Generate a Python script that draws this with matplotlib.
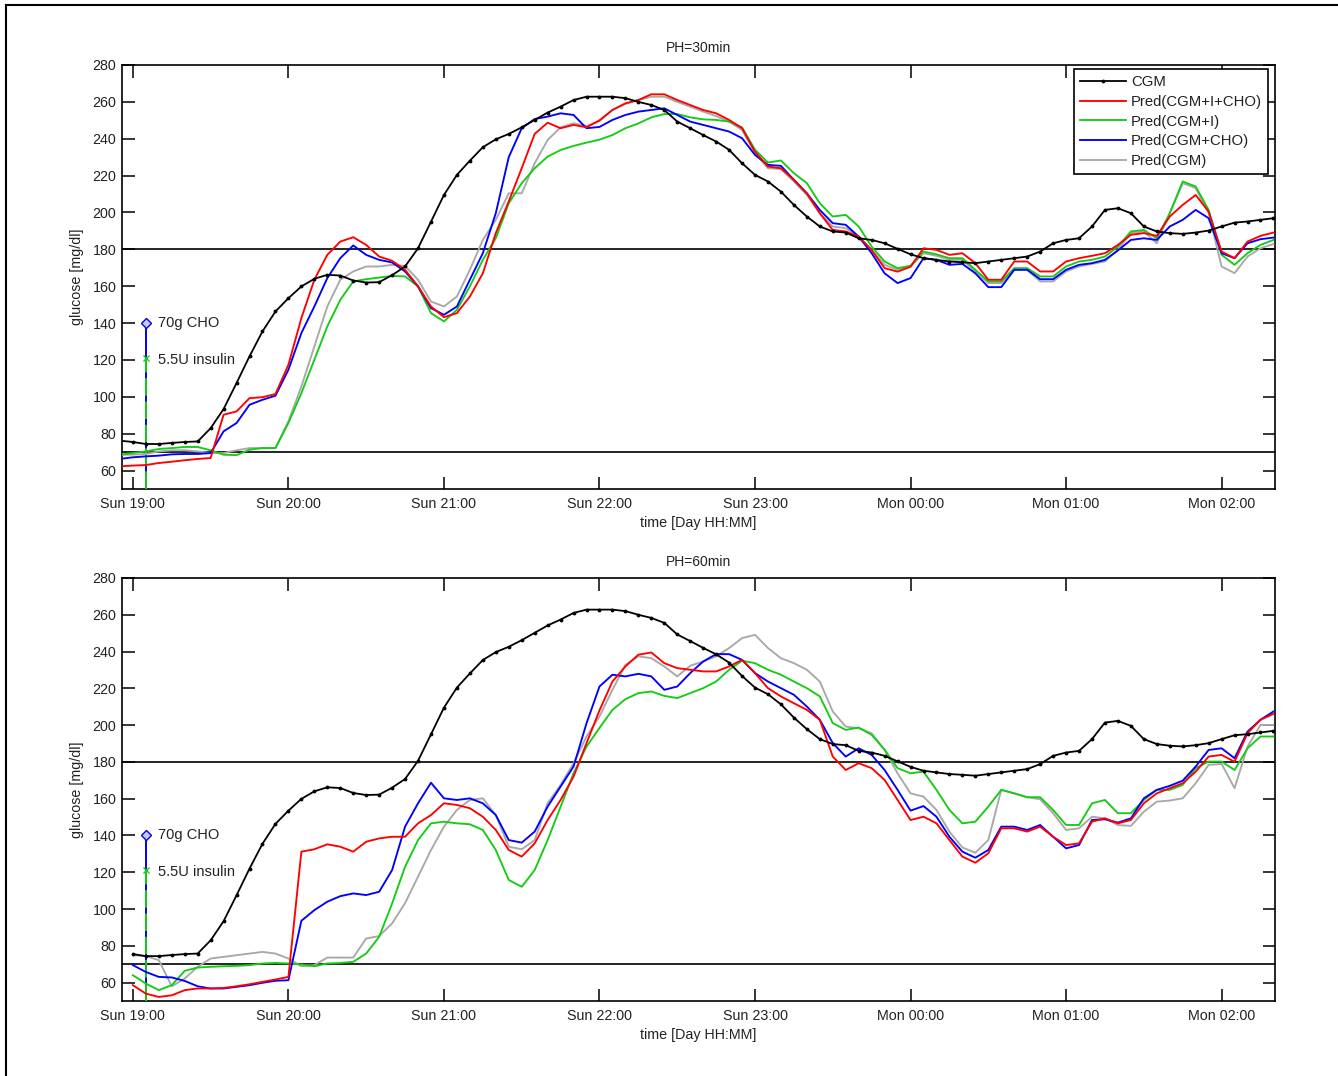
import numpy as np
import matplotlib
matplotlib.use("Agg")
import matplotlib.pyplot as plt
from matplotlib.lines import Line2D

plt.rcParams['font.family'] = ['Liberation Sans', 'DejaVu Sans']

# ---------------- data (minutes after Sun 19:00, 5-min CGM sampling) ----------------
t_top = np.arange(-5, 441, 5)      # top panel series start at left edge
t_bot = np.arange(0, 441, 5)       # bottom panel predictions start at 19:00

cgm = [76.2, 75.5, 74.4, 74.4, 75.0, 75.5, 75.8, 83, 93.4, 107.5, 122, 135.5, 146.3, 153.5,
       159.9, 164, 166.2, 165.8, 163.1, 162, 162.2, 166, 170.7, 180.6, 195, 209.5, 220.4,
       228.1, 235.4, 239.7, 242.6, 246.2, 250.2, 254.2, 257.4, 261, 262.8, 262.8, 262.8, 262,
       260, 258.3, 255.6, 249.3, 245.7, 242, 238.5, 234, 226.7, 220.4, 216.8, 211.3, 204.1,
       197.8, 192.4, 189.7, 189.1, 186, 185.1, 183.3, 180.3, 177.3, 175.2, 174.3, 173.4, 173,
       172.5, 173.4, 174.3, 175.2, 176.1, 178.8, 183.3, 185.1, 186, 192.4, 201.4, 202.3, 199.6,
       192.4, 189.7, 188.8, 188.4, 189.1, 190.2, 192.4, 194.5, 195.1, 196, 196.9]

# PH = 30 min
p30_i_cho = [62.3, 62.7, 63, 64.1, 64.8, 65.6, 66.3, 66.8, 90.3, 92.1, 99.3, 99.8, 101.5, 117.4,
             142.7, 163.5, 177, 184.2, 186.6, 182.4, 176.1, 173.8, 168.9, 159.9, 149, 143.2, 145.4,
             154.4, 167, 188.8, 206, 224, 242.6, 248.7, 245.7, 247.5, 246.2, 250, 255.6, 259.2,
             261, 264.1, 264.1, 261, 258.3, 255.6, 253.8, 250.2, 245.7, 233, 224.9, 224, 217.7,
             210.4, 199.6, 190.5, 189.7, 186.9, 179.6, 169.8, 167.9, 170.6, 180.6, 179.7, 177,
             177.9, 172.5, 163.5, 163.5, 173.4, 173.4, 168, 168, 173.4, 175.2, 176.5, 177.9, 182.4,
             187.9, 188.8, 187.3, 197.8, 204.1, 209.5, 200.5, 178.8, 175.2, 184.2, 187.3, 189.1]
p30_i = [68.6, 69.5, 70.4, 71.7, 72.2, 72.8, 72.8, 71, 68.6, 68.4, 71.3, 72.2, 72.2, 85.8, 102,
         120.1, 138.2, 152.6, 162.6, 163.8, 164.7, 165.6, 165.3, 159.9, 145.4, 140.9, 147.2, 159.9,
         174.3, 186, 205, 215.9, 224, 230.3, 233.9, 236.1, 237.9, 239.5, 242, 245.7, 248.3, 251.6,
         253.4, 253.4, 251.6, 250.5, 250.2, 249.3, 246.2, 234, 227.1, 228.2, 221.3, 215.9, 205,
         197.8, 198.7, 192.4, 181.5, 173.4, 169.8, 171.1, 178.8, 177.3, 175.2, 175.2, 168.9, 162.6,
         162.6, 169.8, 169.8, 165.3, 165.3, 170.7, 173.4, 174.3, 176.1, 181.5, 189.7, 190.5, 186,
         199.6, 216.8, 214.1, 201.4, 177, 171.6, 177.9, 182.4, 185.1]
p30_cho = [66.3, 67.2, 67.7, 68.1, 68.8, 69, 69, 69.5, 81.3, 85.8, 95.7, 98.4, 100.6, 114.7, 134.6,
           149, 164.4, 175.2, 182.1, 177, 174.3, 172.9, 168, 159.9, 148.1, 144.5, 149, 163.5, 177.9,
           199.6, 230, 245.7, 250.7, 252, 253.8, 252.9, 245.7, 246.4, 250.2, 252.9, 254.7, 255.6,
           256.5, 252.9, 249.3, 247.5, 245.7, 243.9, 240.3, 231.2, 225.8, 225.3, 217.7, 210.4,
           201.4, 194.2, 193.3, 186.9, 177.9, 167, 161.7, 164.4, 175.2, 174.3, 171.6, 172.1, 167,
           159.5, 159.5, 168.9, 168.9, 163.8, 163.8, 168.9, 171.6, 172.5, 174.3, 179.4, 185.1, 186,
           185.1, 192.4, 196, 201.4, 196.9, 177.9, 175.2, 183.3, 185.5, 186.4]
p30_cgm = [68.6, 68.6, 69, 70.4, 71, 71, 70.4, 69.5, 69.5, 71, 72.2, 72.2, 72.2, 86.8, 105.6, 127.3,
           149, 163.5, 168, 170.7, 170.7, 171.6, 171, 163.5, 151.7, 149, 154.4, 168.9, 185.1, 196,
           210.4, 210.4, 226.7, 239.3, 246.2, 248.4, 246.9, 249.5, 255.6, 258.9, 261, 262.8, 262.8,
           260, 257.4, 254.7, 252.3, 249.3, 244.8, 232.1, 224, 223.5, 216.8, 209.5, 199.6, 192.4,
           191.5, 186.9, 179.7, 171.6, 168.9, 170.7, 177.9, 176.5, 174.3, 174.3, 168, 161.7, 161.7,
           168.9, 168.9, 162.6, 162.6, 168, 170.7, 172.1, 173.4, 179.7, 188.8, 189.7, 183.3, 199.6,
           215.9, 213.2, 199.6, 170.7, 167.1, 176.1, 180.6, 182.9]

# PH = 60 min
p60_i_cho = [58.6, 54, 52.2, 53.1, 55.9, 56.8, 56.8, 57.1, 58, 59.1, 60.4, 61.7, 63.1, 131.2, 132.5,
             135.2, 133.9, 131.2, 136.6, 138.4, 139.3, 139.3, 146.6, 151.1, 157.5, 156.6, 154.8,
             150.2, 143, 132.1, 128.5, 135.7, 148.4, 159.3, 172, 190.2, 208, 223.7, 231.9, 238.3,
             239.5, 233.7, 231, 230.1, 229.2, 229.2, 231.9, 235.5, 228.3, 220.1, 215.6, 211.9,
             208.3, 202.9, 182.9, 175.6, 179.3, 176.6, 170.2, 159.3, 148.4, 150.2, 146.6, 137.5,
             128.5, 125.2, 130.3, 143.9, 143.9, 142.1, 144.8, 139.3, 134.8, 135.7, 147.5, 149.3,
             146.6, 148.4, 157.5, 162.9, 165.7, 168.4, 174.7, 182.9, 183.8, 180.1, 195.6, 202.9, 206.1]
p60_i = [64, 59.5, 55.9, 58.6, 66.4, 68.2, 68.6, 68.9, 69.1, 69.5, 70.4, 70.7, 70.4, 69.8, 68.9, 70.4,
         70.7, 71.3, 75.8, 84.9, 103, 123, 137.5, 146.6, 147.5, 146.6, 146.1, 143, 132.1, 115.8,
         112.1, 121.2, 137.5, 155.6, 173.8, 188.3, 198.5, 208.3, 214.1, 217.4, 218.3, 215.9, 214.7,
         217.4, 220.1, 223.7, 230.1, 235, 233.7, 230.1, 227.4, 223.7, 220.1, 215.6, 201.1, 197.4,
         198.7, 194.7, 186.6, 176.6, 173.8, 174.7, 164.8, 153.9, 146.6, 147.5, 155.7, 164.8, 162.9,
         160.8, 160.8, 153.9, 145.7, 145.7, 157.5, 159.3, 152.1, 152.1, 159.3, 164.8, 164.8, 167.5,
         176.6, 180.2, 180.2, 175.6, 187.4, 193.8, 193.8]
p60_cho = [69.5, 65.8, 63.1, 62.8, 60.9, 58, 56.8, 56.8, 57.7, 58.6, 59.9, 61, 61.3, 93.6, 99.4, 104,
           107, 108.5, 107.6, 109.4, 121.2, 144.8, 157.5, 168.7, 160.2, 159.3, 160.2, 157.5, 151.1,
           137.5, 136.1, 142.1, 155.7, 166.6, 177.5, 201, 221, 227.4, 226.5, 227.9, 226.5, 219.2,
           221, 228.3, 234.6, 238.6, 238.6, 235.5, 228.3, 223.7, 220.1, 216.5, 210.1, 202.9, 190.2,
           182.9, 187.4, 183.8, 175.6, 164.8, 153.5, 156, 150.2, 139.3, 131.2, 127.9, 132.1, 144.8,
           144.8, 143, 145.7, 139.3, 133, 134.8, 148.4, 148.8, 147, 149.3, 160.2, 164.8, 167, 169.8,
           177.5, 186.5, 187.4, 182, 196.5, 202.9, 207.4]
p60_cgm = [74.9, 74.4, 72.2, 58, 62.2, 68.6, 73.1, 74, 74.9, 75.8, 76.7, 75.8, 73.1, 68.9, 69.5, 73.6,
           73.6, 73.6, 84, 85.3, 92.2, 103.2, 117.6, 132.1, 144.8, 153.9, 159.3, 160.2, 151.1, 133.9,
           132.5, 137.5, 157.5, 167.5, 179.3, 193.8, 204.7, 219.2, 232.8, 237.4, 236.4, 231.9, 226.5,
           232.3, 234.6, 237.4, 241.9, 247.3, 249.1, 241.9, 236.4, 233.7, 230.1, 223.7, 207.4, 199.2,
           198.3, 195.6, 186.5, 173.8, 162.9, 161.1, 153.9, 142.1, 133.5, 130.6, 137.5, 164.8, 162.9,
           160.8, 159.7, 152.1, 143, 143.9, 150.2, 149.3, 145.7, 145.2, 152.9, 158.4, 159, 160.2,
           168.4, 178.4, 178.9, 165.7, 188.3, 200.1, 200.1]

xtick_pos = [0, 60, 120, 180, 240, 300, 360, 420]
xtick_labels = ["Sun 19:00", "Sun 20:00", "Sun 21:00", "Sun 22:00", "Sun 23:00",
                "Mon 00:00", "Mon 01:00", "Mon 02:00"]
ytick_pos = list(range(60, 281, 20))
thresholds = [70, 180]
legend_labels = ["CGM", "Pred(CGM+I+CHO)", "Pred(CGM+I)", "Pred(CGM+CHO)", "Pred(CGM)"]
meal_time = 5
cho_marker_value = 140
ins_marker_value = 121
titles = ["PH=30min", "PH=60min"]

# ---------------- figure ----------------
W, H = 1338, 1076
fig = plt.figure(figsize=(W / 100, H / 100), dpi=100)

def px_axes(left, top, right, bottom):
    return fig.add_axes([left / W, 1 - bottom / H, (right - left) / W, (bottom - top) / H])

ax_top = px_axes(122, 65, 1275, 489)
ax_bot = px_axes(122, 578, 1275, 1001)

RED = '#ff0000'
GREEN = '#14cc14'
BLUE = '#0000ff'
GRAY = '#a8a8a8'
LW = 1.35

def style(ax, title):
    ax.set_xlim(-4.2, 440.6)
    ax.set_ylim(50, 280)
    ax.set_xticks(xtick_pos)
    ax.set_xticklabels(xtick_labels)
    ax.set_yticks(ytick_pos)
    ax.tick_params(direction='in', length=9, width=1.1, top=True, right=True,
                   labelsize=10.3, colors='black', labelcolor='#222222')
    ax.tick_params(axis='x', pad=6)
    ax.tick_params(axis='y', pad=4)
    for s in ax.spines.values():
        s.set_linewidth(1.2)
    for th in thresholds:
        ax.axhline(th, color='black', lw=1.2, zorder=1)
    ax.set_title(title, fontsize=10, pad=9, color='#222222')
    ax.set_xlabel("time [Day HH:MM]", fontsize=10.3, labelpad=3, color='#222222')
    ax.set_ylabel("glucose [mg/dl]", fontsize=10.3, labelpad=6, color='#222222')
    # meal / insulin annotation
    ax.plot([meal_time, meal_time], [50, cho_marker_value], color=BLUE, lw=1.4, zorder=3)
    ax.plot([meal_time, meal_time], [50, ins_marker_value], color=GREEN, lw=1.4, zorder=4,
            dashes=(9, 3))
    ax.plot([meal_time], [cho_marker_value], marker='D', ms=5, mfc='#c8c8ff', mec=BLUE,
            mew=1.0, zorder=5, clip_on=False)
    ax.plot([meal_time], [ins_marker_value], marker='x', ms=5, color=GREEN, mew=1.0, zorder=5)
    ax.text(9.5, cho_marker_value, "70g CHO", fontsize=10.5, va='center', ha='left',
            color='#222222')
    ax.text(9.5, ins_marker_value - 1, "5.5U insulin", fontsize=10.5, va='center', ha='left',
            color='#222222')

# top panel
ax = ax_top
ax.plot(t_top, p30_cgm, color=GRAY, lw=LW, zorder=6)
ax.plot(t_top, p30_i, color=GREEN, lw=LW, zorder=7)
ax.plot(t_top, p30_cho, color=BLUE, lw=LW, zorder=8)
ax.plot(t_top, p30_i_cho, color=RED, lw=LW, zorder=9)
ax.plot(t_top, cgm, color='black', lw=1.3, marker='.', ms=3.5, zorder=10)
style(ax, titles[0])

handles = [
    Line2D([], [], color='black', lw=1.3, marker='.', ms=3.5),
    Line2D([], [], color=RED, lw=LW),
    Line2D([], [], color=GREEN, lw=LW),
    Line2D([], [], color=BLUE, lw=LW),
    Line2D([], [], color=GRAY, lw=LW),
]
leg = ax.legend(handles, legend_labels, loc='upper right',
                bbox_to_anchor=(1 - 7 / 1153, 1 - 4 / 424), borderaxespad=0,
                fontsize=10.7, handlelength=3.1, handletextpad=0.3, borderpad=0.42,
                labelspacing=0.38, fancybox=False, framealpha=1, edgecolor='black')
leg.get_frame().set_linewidth(1.2)
for txt in leg.get_texts():
    txt.set_color('#222222')
leg.set_zorder(20)

# bottom panel
ax = ax_bot
ax.plot(t_bot, p60_cgm, color=GRAY, lw=LW, zorder=6)
ax.plot(t_bot, p60_i, color=GREEN, lw=LW, zorder=7)
ax.plot(t_bot, p60_cho, color=BLUE, lw=LW, zorder=8)
ax.plot(t_bot, p60_i_cho, color=RED, lw=LW, zorder=9)
ax.plot(t_top[1:], cgm[1:], color='black', lw=1.3, marker='.', ms=3.5, zorder=10)
style(ax, titles[1])

# outer frame (top and left edges, as in the screenshot)
fig.add_artist(Line2D([6 / W, 1.0], [1 - 5 / H, 1 - 5 / H], transform=fig.transFigure,
                      color='black', lw=1.5))
fig.add_artist(Line2D([6 / W, 6 / W], [0.0, 1 - 5 / H], transform=fig.transFigure,
                      color='black', lw=1.5))

fig.savefig("out.png", dpi=100, facecolor='white')
